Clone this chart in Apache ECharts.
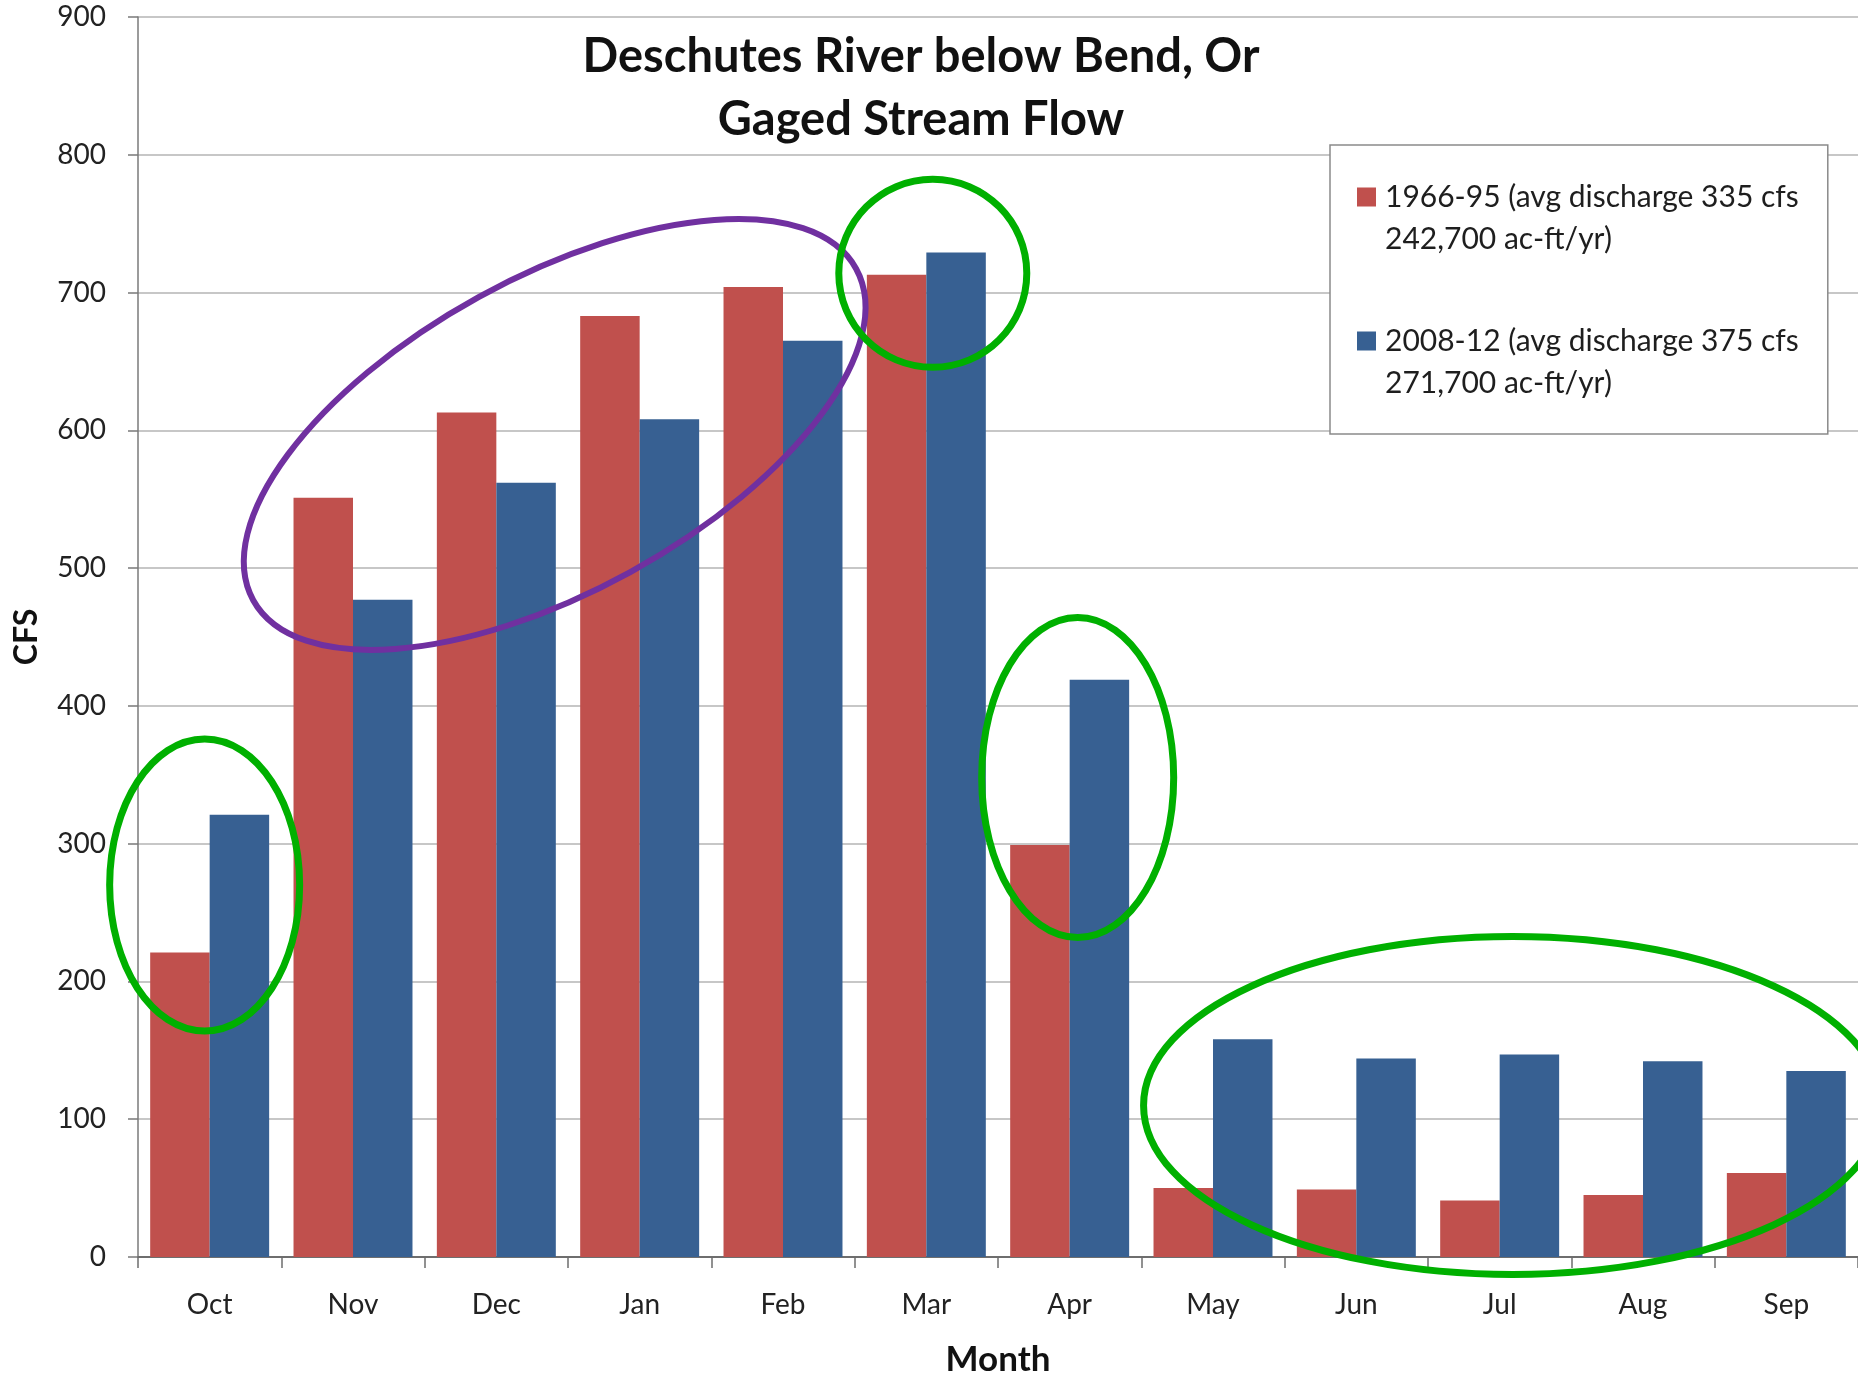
<!DOCTYPE html>
<html>
<head>
<meta charset="utf-8">
<title>Deschutes River below Bend, Or — Gaged Stream Flow</title>
<script src="https://cdn.jsdelivr.net/npm/echarts@6/dist/echarts.min.js"></script>
<style>
  html, body { margin: 0; padding: 0; background: #ffffff; }
  #chart { width: 1858px; height: 1377px; }
</style>
</head>
<body>
<div id="chart"></div>
<script>
// Monthly mean discharge (cfs), water-year order
const months = ['Oct', 'Nov', 'Dec', 'Jan', 'Feb', 'Mar', 'Apr', 'May', 'Jun', 'Jul', 'Aug', 'Sep'];
const flow1966to95 = [221, 551, 613, 683, 704, 713, 299, 50, 49, 41, 45, 61];
const flow2008to12 = [321, 477, 562, 608, 665, 729, 419, 158, 144, 147, 142, 135];
const seriesNames = [
  '1966-95 (avg discharge 335 cfs\n242,700 ac-ft/yr)',
  '2008-12 (avg discharge 375 cfs\n271,700 ac-ft/yr)'
];
const yTicks = { min: 0, max: 900, interval: 100 };

const FONT = 'Lato';
const RED = '#c0504d';
const BLUE = '#376092';
const GREEN = '#00b000';
const PURPLE = '#7030a0';

const chart = echarts.init(document.getElementById('chart'), null, { renderer: 'canvas' });

chart.setOption({
  animation: false,
  backgroundColor: '#ffffff',
  textStyle: { fontFamily: FONT },
  title: {
    text: 'Deschutes River below Bend, Or\nGaged Stream Flow',
    left: 921,
    top: 25,
    padding: 0,
    textAlign: 'center',
    textStyle: {
      fontFamily: FONT,
      fontWeight: 'bold',
      fontSize: 47,
      lineHeight: 63,
      color: '#111111'
    }
  },
  legend: {
    orient: 'vertical',
    left: 1330,
    top: 145,
    padding: [31, 29, 30, 27],
    itemWidth: 19,
    itemHeight: 61,
    itemGap: 60,
    // square swatch sitting level with the first text line
    icon: 'path://M0,0H19V19H0Z M0,61H19Z',
    borderColor: '#8a8a8a',
    borderWidth: 1.5,
    backgroundColor: '#ffffff',
    selectedMode: false,
    textStyle: {
      fontFamily: FONT,
      fontSize: 30,
      lineHeight: 42,
      color: '#1e1e1e',
      padding: [0, 0, 0, 4]
    },
    data: seriesNames
  },
  grid: {
    left: 138,
    right: 0,
    top: 17,
    bottom: 120,
    containLabel: false,
    outerBoundsMode: 'none'
  },
  xAxis: {
    type: 'category',
    data: months,
    name: 'Month',
    nameLocation: 'middle',
    nameGap: 85,
    nameTextStyle: { fontFamily: FONT, fontWeight: 'bold', fontSize: 35, color: '#111111' },
    axisLine: { show: true, lineStyle: { color: '#6e6e6e', width: 2 } },
    axisTick: { show: true, length: 11, lineStyle: { color: '#6e6e6e', width: 1.5 } },
    axisLabel: { fontFamily: FONT, fontSize: 28, color: '#222222', margin: 34 },
    splitLine: { show: false }
  },
  yAxis: {
    type: 'value',
    min: yTicks.min,
    max: yTicks.max,
    interval: yTicks.interval,
    name: 'CFS',
    nameLocation: 'middle',
    nameRotate: 90,
    nameGap: 95,
    nameTextStyle: { fontFamily: FONT, fontWeight: 'bold', fontSize: 32, color: '#111111' },
    axisLine: { show: true, lineStyle: { color: '#7a7a7a', width: 1.5 } },
    axisTick: { show: true, length: 10, lineStyle: { color: '#7a7a7a', width: 1.5 } },
    axisLabel: { fontFamily: FONT, fontSize: 28, color: '#222222', margin: 32 },
    splitLine: { show: true, lineStyle: { color: '#b4b4b4', width: 1.5 } }
  },
  series: [
    {
      name: seriesNames[0],
      type: 'bar',
      data: flow1966to95,
      barGap: '0%',
      barCategoryGap: '17%',
      itemStyle: { color: RED }
    },
    {
      name: seriesNames[1],
      type: 'bar',
      data: flow2008to12,
      barGap: '0%',
      barCategoryGap: '17%',
      itemStyle: { color: BLUE }
    }
  ]
});

// Highlight rings: centre given as (category position, cfs), radii in pixels
const rings = [
  { cat: -0.035, cfs: 270, rx: 95, ry: 146, rot: 0, color: GREEN, width: 7 },
  { cat: 2.407, cfs: 597, rx: 344, ry: 157, rot: 28.8, color: PURPLE, width: 6 },
  { cat: 5.045, cfs: 714, rx: 94, ry: 94, rot: 0, color: GREEN, width: 7 },
  { cat: 6.056, cfs: 348, rx: 96, ry: 160, rot: 0, color: GREEN, width: 7 },
  { cat: 9.09, cfs: 110, rx: 369, ry: 169, rot: 0, color: GREEN, width: 7 }
];

function drawRings() {
  const p0 = chart.convertToPixel({ xAxisIndex: 0, yAxisIndex: 0 }, [0, 0]);
  const p1 = chart.convertToPixel({ xAxisIndex: 0, yAxisIndex: 0 }, [1, 0]);
  const step = p1[0] - p0[0];
  chart.setOption({
    graphic: rings.map(function (r) {
      const y = chart.convertToPixel({ yAxisIndex: 0 }, r.cfs);
      return {
        type: 'ellipse',
        x: p0[0] + r.cat * step,
        y: y,
        rotation: r.rot * Math.PI / 180,
        shape: { cx: 0, cy: 0, rx: r.rx, ry: r.ry },
        style: { fill: 'none', stroke: r.color, lineWidth: r.width },
        silent: true,
        z: 100
      };
    })
  });
}
drawRings();
</script>
</body>
</html>
